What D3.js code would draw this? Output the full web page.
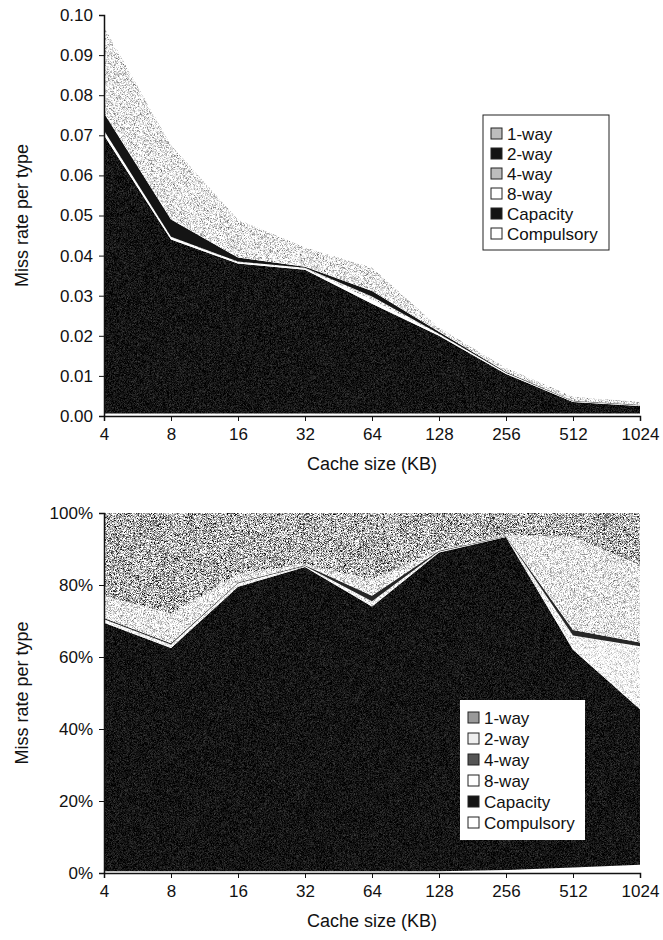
<!DOCTYPE html>
<html>
<head>
<meta charset="utf-8">
<script src="https://cdn.jsdelivr.net/npm/d3@7/dist/d3.min.js"></script>
<style>
  body { margin: 0; background: #fff; }
  text { font-family: "Liberation Sans", Arial, sans-serif; fill: #111; }
</style>
</head>
<body>
<div id="chart"></div>
<script>
// cache sizes (KB) on the x axis
var sizes = [4, 8, 16, 32, 64, 128, 256, 512, 1024];
var keys = ["compulsory", "capacity", "w8", "w4", "w2", "w1"];
var legendLabels = ["1-way", "2-way", "4-way", "8-way", "Capacity", "Compulsory"];
var legendKeys = ["w1", "w2", "w4", "w8", "capacity", "compulsory"];

// top chart: miss rate per type (thickness of each layer)
var absCompulsory = [0.0006, 0.0006, 0.0006, 0.0006, 0.0006, 0.0006, 0.0006, 0.0006, 0.0006];
var absCapacity   = [0.0694, 0.0434, 0.0374, 0.0359, 0.0274, 0.0194, 0.0099, 0.0029, 0.0019];
var abs8way       = [0.0010, 0.0005, 0.0003, 0.0003, 0.0010, 0.0003, 0.0002, 0.0001, 0.0001];
var abs4way       = [0.0002, 0.0002, 0.0002, 0.0002, 0.0008, 0.0002, 0.0001, 0.0001, 0.0001];
var abs2way       = [0.0043, 0.0043, 0.0010, 0.0002, 0.0014, 0.0005, 0.0002, 0.0001, 0.0001];
var abs1way       = [0.0215, 0.0185, 0.0095, 0.0048, 0.0058, 0.0010, 0.0010, 0.0010, 0.0007];
var absTicks = [0, 0.01, 0.02, 0.03, 0.04, 0.05, 0.06, 0.07, 0.08, 0.09, 0.10];

// bottom chart: share of misses per type (%)
var pctCompulsory = [0.5, 0.5, 0.5, 0.5, 0.5, 0.5, 0.8, 1.5, 2.3];
var pctCapacity   = [69.0, 62.0, 79.0, 84.5, 73.5, 88.5, 92.5, 60.5, 43.2];
var pct8way       = [1.0, 1.0, 1.0, 0.3, 1.5, 0.3, 0.2, 4.0, 17.5];
var pct4way       = [0.3, 0.3, 0.2, 0.2, 1.5, 0.2, 0.1, 1.5, 1.0];
var pct2way       = [6.2, 8.2, 2.3, 0.3, 4.5, 0.3, 0.2, 26.0, 21.5];
var pct1way       = [23.0, 28.0, 17.0, 14.2, 18.5, 10.2, 6.2, 6.5, 14.5];
var pctTicks = [0, 20, 40, 60, 80, 100];

function rows(cols) {
  return sizes.map(function(s, i) {
    var r = { size: s };
    keys.forEach(function(k, j) { r[k] = cols[j][i]; });
    return r;
  });
}

var svg = d3.select("#chart").append("svg")
  .attr("width", 663)
  .attr("height", 940);

// grainy "scanned" textures, kept subtle
var defs = svg.append("defs");
function grain(id, gain, offset, seed) {
  var f = defs.append("filter")
    .attr("id", id)
    .attr("filterUnits", "userSpaceOnUse")
    .attr("x", 0).attr("y", 0).attr("width", 663).attr("height", 940)
    .attr("color-interpolation-filters", "sRGB");
  f.append("feTurbulence")
    .attr("type", "fractalNoise")
    .attr("baseFrequency", 1.7)
    .attr("numOctaves", 2)
    .attr("seed", seed)
    .attr("result", "noise");
  var row = gain + " 0 0 0 " + offset;
  f.append("feColorMatrix")
    .attr("in", "noise")
    .attr("type", "matrix")
    .attr("values", row + " " + row + " " + row + " 0 0 0 0 1")
    .attr("result", "grey");
  f.append("feComposite")
    .attr("in", "grey")
    .attr("in2", "SourceGraphic")
    .attr("operator", "in");
}
grain("lightGrain", 1.5, 0.16, 4);
grain("midGrain", 2.6, -0.6, 7);
grain("paleGrain", 1.0, 0.46, 11);
grain("blackGrain", 0.5, -0.17, 2);

var x = d3.scaleLog().base(2).domain([4, 1024]).range([104, 640]);

function drawChart(opt) {
  var g = svg.append("g");
  var y = d3.scaleLinear().domain(opt.domain).range([opt.bottom, opt.top]);
  var series = d3.stack().keys(keys)(rows(opt.cols));

  var area = d3.area()
    .x(function(d) { return x(d.data.size); })
    .y0(function(d) { return y(d[0]); })
    .y1(function(d) { return y(d[1]); });

  g.selectAll("path.layer")
    .data(series)
    .enter()
    .append("path")
    .attr("class", "layer")
    .attr("d", area)
    .attr("fill", function(d) { return opt.fills[d.key]; })
    .attr("filter", function(d) { return opt.grains[d.key] ? "url(#" + opt.grains[d.key] + ")" : null; });

  // y axis
  var ya = g.append("g")
    .attr("transform", "translate(104,0)")
    .call(d3.axisLeft(y).tickValues(opt.ticks).tickFormat(opt.format).tickSize(5).tickPadding(6));
  ya.selectAll("text").style("font-size", "17px");

  // x axis
  var xa = g.append("g")
    .attr("transform", "translate(0," + opt.bottom + ")")
    .call(d3.axisBottom(x).tickValues(sizes).tickFormat(function(d) { return d; }).tickSize(5).tickPadding(7));
  xa.selectAll("text").style("font-size", "17px");
  g.selectAll(".domain").attr("stroke", "#111").attr("stroke-width", 1.5);
  g.selectAll(".tick line").attr("stroke", "#111");

  g.append("text")
    .attr("x", 372)
    .attr("y", opt.bottom + 54)
    .attr("text-anchor", "middle")
    .style("font-size", "18px")
    .text("Cache size (KB)");

  g.append("text")
    .attr("text-anchor", "middle")
    .attr("transform", "translate(28," + ((opt.top + opt.bottom) / 2) + ")rotate(-90)")
    .style("font-size", "18px")
    .text("Miss rate per type");

  // legend
  var lg = g.append("g").attr("transform", "translate(" + opt.legend.x + "," + opt.legend.y + ")");
  lg.append("rect")
    .attr("width", opt.legend.w)
    .attr("height", opt.legend.h)
    .attr("fill", "#fff")
    .attr("stroke", opt.legend.border ? "#222" : "none");
  legendKeys.forEach(function(k, i) {
    var row = lg.append("g").attr("transform", "translate(8," + (opt.legend.first + i * opt.legend.step) + ")");
    row.append("rect")
      .attr("x", 0).attr("y", -6)
      .attr("width", 11).attr("height", 11)
      .attr("fill", opt.swatch[k])
      .attr("stroke", "#222");
    row.append("text")
      .attr("x", 16)
      .attr("y", 6)
      .style("font-size", "17px")
      .text(legendLabels[i]);
  });
}

drawChart({
  domain: [0, 0.10], top: 15, bottom: 416,
  cols: [absCompulsory, absCapacity, abs8way, abs4way, abs2way, abs1way],
  ticks: absTicks, format: d3.format(".2f"),
  fills: { compulsory: "#fff", capacity: "#141414", w8: "#fff", w4: "#cfcfcf", w2: "#141414", w1: "#d9d9d9" },
  grains: { capacity: "blackGrain", w1: "lightGrain", w4: "lightGrain" },
  swatch: { compulsory: "#fff", capacity: "#141414", w8: "#fff", w4: "#bdbdbd", w2: "#141414", w1: "#bdbdbd" },
  legend: { x: 483, y: 115, w: 126, h: 135, first: 19, step: 20, border: true }
});

drawChart({
  domain: [0, 100], top: 513, bottom: 873,
  cols: [pctCompulsory, pctCapacity, pct8way, pct4way, pct2way, pct1way],
  ticks: pctTicks, format: function(d) { return d + "%"; },
  fills: { compulsory: "#fff", capacity: "#141414", w8: "#f0f0f0", w4: "#262626", w2: "#d2d2d2", w1: "#7e7e7e" },
  grains: { capacity: "blackGrain", w1: "midGrain", w2: "lightGrain", w8: "paleGrain" },
  swatch: { compulsory: "#fff", capacity: "#141414", w8: "#fff", w4: "#555", w2: "#eee", w1: "#999" },
  legend: { x: 460, y: 700, w: 125, h: 140, first: 18, step: 21, border: false }
});
</script>
</body>
</html>
